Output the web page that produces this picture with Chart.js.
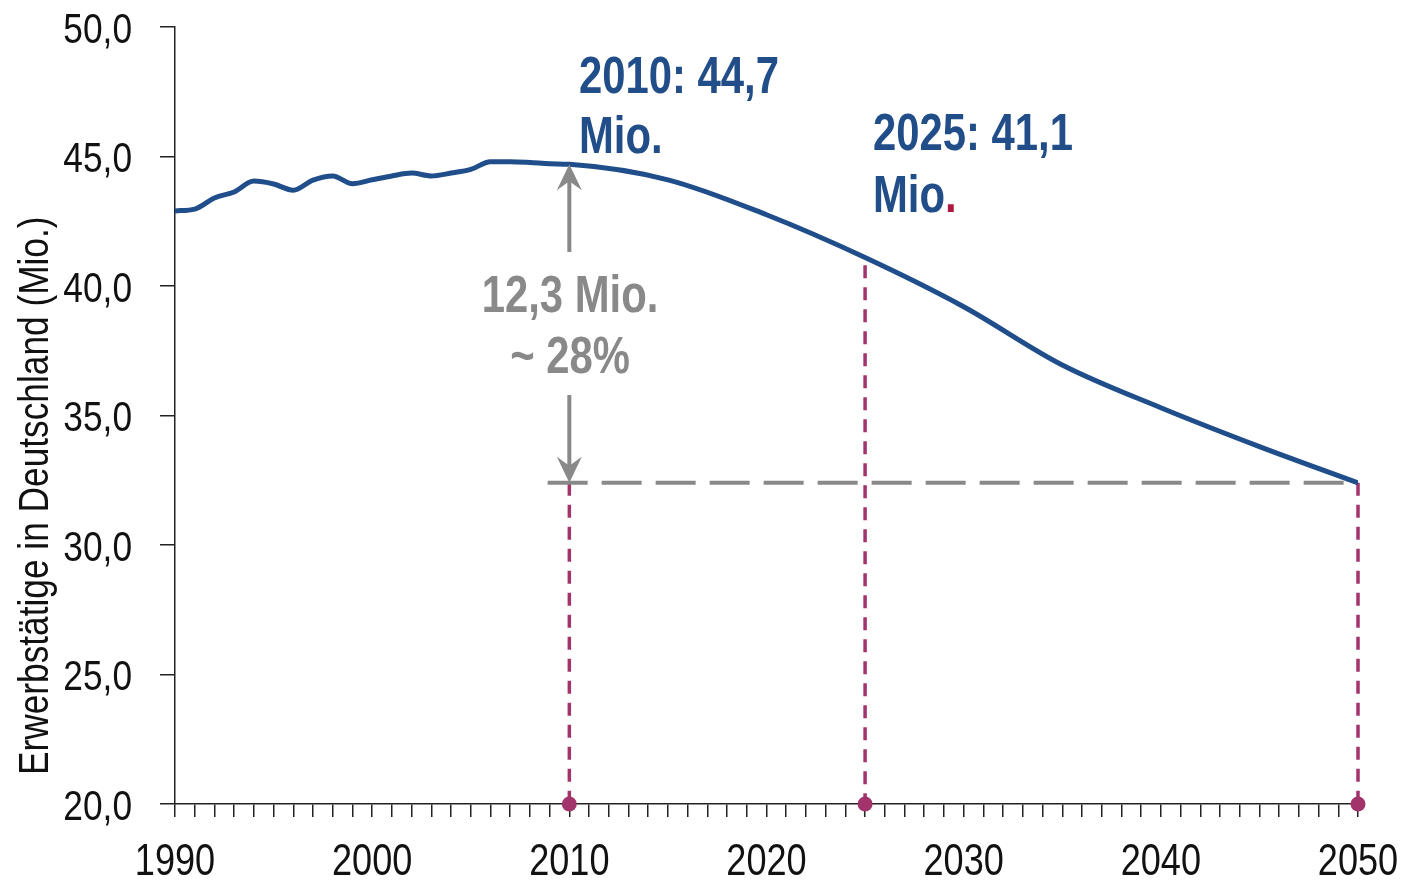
<!DOCTYPE html>
<html>
<head>
<meta charset="utf-8">
<script src="https://cdn.jsdelivr.net/npm/chart.js@4.4.1/dist/chart.umd.min.js"></script>
<style>
html,body{margin:0;padding:0;background:#ffffff;}
#wrap{width:1405px;height:883px;position:relative;}
</style>
</head>
<body>
<div id="wrap"><canvas id="c" width="1405" height="883"></canvas></div>
<script>
// ---- data ----
const years = [1990,1991,1992,1993,1994,1995,1996,1997,1998,1999,2000,2001,2002,2003,2004,2005,2006,2007,2008,2009,2010,2015,2020,2025,2030,2035,2040,2045,2050];
const employed = [42.9,42.97,43.4,43.63,44.05,43.94,43.7,44.09,44.25,43.95,44.1,44.25,44.36,44.25,44.36,44.5,44.8,44.8,44.77,44.72,44.7,44.1,42.75,41.1,39.2,36.95,35.3,33.8,32.4];
const xTickLabels = ['1990','2000','2010','2020','2030','2040','2050'];
const yTickLabels = ['20,0','25,0','30,0','35,0','40,0','45,0','50,0'];
const markerYears = [2010, 2025, 2050];
const markerTops = [32.4, 40.8, 32.4];
const refLevel = [32.4, 32.4];
const refYears = [2008.9, 2050];
const peakYear = 2010, peakValue = 44.7, endValue = 32.4;
const labelPeak = ['2010: 44,7', 'Mio.'];
const labelMid = ['2025: 41,1', 'Mio', '.'];
const labelDiff = ['12,3 Mio.', '~ 28%'];
const yTitle = 'Erwerbstätige in Deutschland (Mio.)';

const FONT = '"Liberation Sans", Arial, sans-serif';
const NARROW = 0.82; // Arial-Narrow-like horizontal compression
const BLUE = '#1f4e8b';
const TEXTBLUE = '#214d88';
const GRAY = '#898989';
const PURPLE = '#a3336b';
const DOTRED = '#b0183f';
const INK = '#111111';

const lineData = years.map((yr, i) => ({x: yr, y: employed[i]}));
const markerSets = markerYears.map((yr, i) => ({
  data: [{x: yr, y: markerTops[i]}, {x: yr, y: 20}],
  borderColor: PURPLE,
  backgroundColor: PURPLE,
  borderWidth: 3.5,
  borderDash: [13, 9],
  pointRadius: [0, 7.5],
  pointHoverRadius: 0,
  pointBorderWidth: 0,
  fill: false,
  clip: false
}));
const refSet = {
  data: refYears.map((yr, i) => ({x: yr, y: refLevel[i]})),
  borderColor: GRAY,
  borderWidth: 4,
  borderDash: [40, 14],
  pointRadius: 0,
  fill: false
};

function narrowText(ctx, text, x, y, align) {
  ctx.save();
  ctx.translate(x, y);
  ctx.scale(NARROW, 1);
  ctx.textAlign = align || 'left';
  ctx.fillText(text, 0, 0);
  ctx.restore();
}

const overlay = {
  id: 'overlay',
  afterDatasetsDraw(chart) {
    const {ctx, scales: {x, y}} = chart;
    const ax = x.getPixelForValue(peakYear);
    const yTop = y.getPixelForValue(peakValue);
    const yBot = y.getPixelForValue(endValue);
    ctx.save();
    ctx.strokeStyle = GRAY;
    ctx.fillStyle = GRAY;
    ctx.lineWidth = 4;
    ctx.beginPath();
    ctx.moveTo(ax, yTop + 15); ctx.lineTo(ax, 252);
    ctx.moveTo(ax, 395); ctx.lineTo(ax, yBot - 15);
    ctx.stroke();
    const head = (tipY, dir) => {
      ctx.beginPath();
      ctx.moveTo(ax, tipY);
      ctx.lineTo(ax - 12.5, tipY + dir * 26);
      ctx.lineTo(ax, tipY + dir * 17);
      ctx.lineTo(ax + 12.5, tipY + dir * 26);
      ctx.closePath();
      ctx.fill();
    };
    head(yTop, 1);
    head(yBot, -1);
    ctx.restore();
  },
  afterDraw(chart) {
    const {ctx, scales: {x, y}} = chart;
    ctx.save();
    ctx.textBaseline = 'alphabetic';

    // tick labels from the library's scales
    ctx.fillStyle = INK;
    ctx.font = '44px ' + FONT;
    x.ticks.forEach((t) => {
      if (t.value % 10 === 0) {
        narrowText(ctx, xTickLabels[(t.value - 1990) / 10], x.getPixelForValue(t.value), 875, 'center');
      }
    });
    ctx.font = '43px ' + FONT;
    y.ticks.forEach((t) => {
      const idx = Math.round((t.value - 20) / 5);
      narrowText(ctx, yTickLabels[idx], 132, y.getPixelForValue(t.value) + 15.5, 'right');
    });

    // annotations
    ctx.font = 'bold 51px ' + FONT;
    ctx.fillStyle = TEXTBLUE;
    narrowText(ctx, labelPeak[0], 579, 93);
    narrowText(ctx, labelPeak[1], 579, 153);
    narrowText(ctx, labelMid[0], 873, 150);
    narrowText(ctx, labelMid[1], 873, 212);
    const w = ctx.measureText(labelMid[1]).width * NARROW;
    ctx.fillStyle = DOTRED;
    narrowText(ctx, labelMid[2], 873 + w, 212);
    ctx.fillStyle = GRAY;
    narrowText(ctx, labelDiff[0], 570, 312, 'center');
    narrowText(ctx, labelDiff[1], 570, 373, 'center');

    // y axis title
    ctx.fillStyle = INK;
    ctx.font = '43px ' + FONT;
    ctx.translate(48, 775);
    ctx.rotate(-Math.PI / 2);
    ctx.scale(NARROW, 1);
    ctx.textAlign = 'left';
    ctx.fillText(yTitle, 0, 0);
    ctx.restore();
  }
};

new Chart(document.getElementById('c'), {
  type: 'line',
  data: {
    datasets: [
      {
        data: lineData,
        borderColor: BLUE,
        borderWidth: 5,
        pointRadius: 0,
        cubicInterpolationMode: 'monotone',
        fill: false
      },
      refSet,
      ...markerSets
    ]
  },
  options: {
    responsive: false,
    animation: false,
    events: [],
    layout: {padding: {top: 27, right: 47, left: 0, bottom: 0}},
    plugins: {legend: {display: false}, tooltip: {enabled: false}, title: {display: false}},
    scales: {
      x: {
        type: 'linear',
        min: 1990,
        max: 2050,
        border: {display: true, color: '#222', width: 1.5},
        grid: {display: true, drawOnChartArea: false, drawTicks: true, tickLength: 13, color: '#222', lineWidth: 1.5},
        ticks: {
          display: false,
          stepSize: 1,
          autoSkip: false,
          maxRotation: 0,
          minRotation: 0
        },
        afterFit: (s) => { s.height = 79; s.paddingLeft = 0; s.paddingRight = 0; }
      },
      y: {
        type: 'linear',
        min: 20,
        max: 50,
        border: {display: true, color: '#222', width: 1.5},
        grid: {display: true, drawOnChartArea: false, drawTicks: true, tickLength: 15, color: '#222', lineWidth: 1.5},
        ticks: {
          display: false,
          stepSize: 5
        },
        afterFit: (s) => { s.width = 175; s.paddingTop = 0; s.paddingBottom = 0; }
      }
    }
  },
  plugins: [overlay]
});
</script>
</body>
</html>
